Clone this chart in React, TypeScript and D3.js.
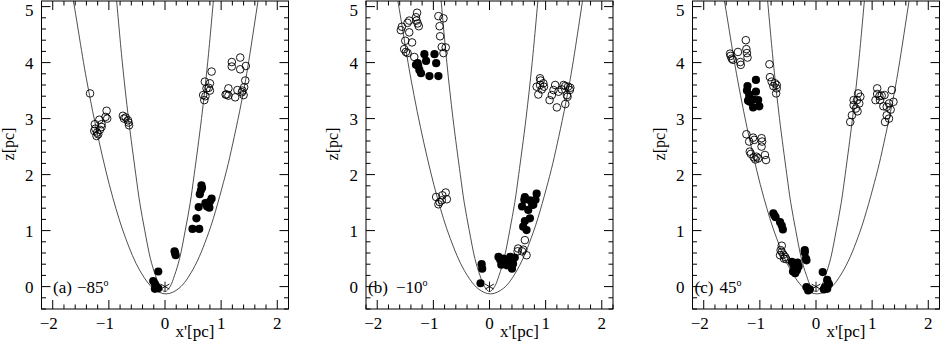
import React from "react";
import * as d3 from "d3";

type P = [number, number];

const xTickValues = [-2, -1, 0, 1, 2];
const zTickValues = [0, 1, 2, 3, 4, 5];
const xTickLabels = ["\u22122", "\u22121", "0", "1", "2"];
const zTickLabels = ["0", "1", "2", "3", "4", "5"];
const panelTags = ["(a)", "(b)", "(c)"];
const panelAngles = ["\u221285", "\u221210", "45"];

const outerCurve: P[] = [
  [-1.72, 5.5], [-1.66, 5.25], [-1.4, 3.71], [-1.17, 2.57], [-0.93, 1.59], [-0.7, 0.86],
  [-0.45, 0.29], [-0.2, -0.04], [0.02, -0.13], [0.25, -0.03], [0.5, 0.31], [0.78, 0.97],
  [1.07, 1.97], [1.18, 2.43], [1.42, 3.6], [1.69, 5.31], [1.74, 5.6],
];
const innerCurve: P[] = [
  [-0.9, 5.5], [-0.88, 5.3], [-0.76, 4], [-0.65, 3], [-0.52, 2], [-0.45, 1.5], [-0.36, 1],
  [-0.26, 0.5], [-0.17, 0.2], [-0.09, 0], [0, -0.09], [0.09, 0], [0.17, 0.2], [0.26, 0.5],
  [0.36, 1], [0.45, 1.5], [0.52, 2], [0.65, 3], [0.76, 4], [0.88, 5.3], [0.9, 5.5],
];

const openA: P[] = [
  [-1.335, 3.45], [-1.04, 3.14], [-1.03, 3.0], [-1.06, 3.03], [-1.17, 2.98], [-1.13, 2.9], [-1.25, 2.9],
  [-1.24, 2.82], [-1.13, 2.85], [-1.16, 2.8], [-1.21, 2.75], [-1.22, 2.69], [-1.26, 2.78], [-1.19, 2.72],
  [-0.75, 3.05], [-0.73, 3.0], [-0.7, 3.02], [-0.66, 2.97], [-0.65, 2.93], [-0.64, 2.88],
  [0.83, 3.84], [0.71, 3.66], [0.8, 3.63], [0.74, 3.54], [0.8, 3.5], [0.68, 3.42], [0.7, 3.33], [0.78, 3.55], [0.72, 3.4],
  [1.19, 4.01], [1.34, 4.09], [1.19, 3.93], [1.34, 3.88], [1.44, 3.94], [1.43, 3.68], [1.13, 3.54], [1.1, 3.43],
  [1.13, 3.41], [1.25, 3.38], [1.29, 3.51], [1.38, 3.5], [1.41, 3.56], [1.4, 3.42], [1.08, 3.43], [1.37, 3.47],
];
const filledA: P[] = [
  [0.65, 1.81], [0.66, 1.76], [0.64, 1.72], [0.62, 1.65], [0.83, 1.57], [0.8, 1.52], [0.77, 1.49], [0.72, 1.49],
  [0.79, 1.41], [0.75, 1.43], [0.6, 1.42], [0.56, 1.22], [0.49, 1.03], [0.61, 1.03], [0.18, 0.6], [0.19, 0.56],
  [0.17, 0.63], [-0.12, 0.27], [-0.21, 0.1], [-0.18, 0.05], [-0.15, 0.0], [-0.18, -0.04], [-0.12, -0.03],
];
const openB: P[] = [
  [-1.29, 4.89], [-1.31, 4.81], [-1.3, 4.75], [-1.28, 4.7], [-1.26, 4.65], [-1.46, 4.71], [-1.43, 4.75],
  [-1.56, 4.64], [-1.58, 4.58], [-1.43, 4.54], [-1.5, 4.39], [-1.38, 4.36], [-1.52, 4.24], [-1.49, 4.19],
  [-1.46, 4.17], [-1.34, 4.1], [-0.91, 4.83], [-0.82, 4.79], [-0.89, 4.65], [-0.88, 4.47], [-0.85, 4.28],
  [-0.78, 4.27], [-0.82, 4.17],
  [-0.95, 1.6], [-0.85, 1.54], [-0.91, 1.47], [-0.78, 1.68], [-0.76, 1.56], [-0.84, 1.63], [-0.89, 1.51],
  [0.9, 3.72], [0.91, 3.68], [0.96, 3.63], [0.84, 3.57], [0.97, 3.57], [0.9, 3.6], [0.87, 3.43], [0.93, 3.52],
  [1.17, 3.6], [1.32, 3.6], [1.4, 3.57], [1.14, 3.51], [1.29, 3.52], [1.43, 3.51], [1.23, 3.48], [1.11, 3.42],
  [1.38, 3.42], [1.07, 3.33], [1.2, 3.2], [1.35, 3.26], [1.39, 3.39], [1.35, 3.58], [1.44, 3.55],
  [0.63, 0.83], [0.51, 0.68], [0.6, 0.66], [0.58, 0.63], [0.66, 0.56], [0.5, 0.63],
];
const filledB: P[] = [
  [-1.16, 4.15], [-0.98, 4.15], [-1.13, 4.03], [-1.28, 3.99], [-0.95, 3.99], [-1.27, 3.94], [-1.25, 3.87],
  [-1.22, 3.81], [-1.07, 3.76], [-0.91, 3.76], [-1.31, 3.96],
  [0.63, 1.6], [0.62, 1.55], [0.58, 1.43], [0.72, 1.54], [0.84, 1.66], [0.82, 1.55], [0.78, 1.46], [0.69, 1.37],
  [0.72, 1.22], [0.63, 1.17], [0.6, 1.07], [0.66, 1.01], [0.76, 1.46],
  [0.37, 0.53], [0.25, 0.5], [0.34, 0.45], [0.42, 0.41], [0.31, 0.38], [0.4, 0.32], [0.21, 0.39], [0.45, 0.52],
  [0.16, 0.53], [0.19, 0.48], [-0.14, 0.4], [-0.13, 0.32], [-0.16, 0.06],
];
const openC: P[] = [
  [-1.53, 4.16], [-1.39, 4.19], [-1.5, 4.07], [-1.48, 4.05], [-1.35, 4.01], [-1.34, 3.96], [-1.25, 4.4],
  [-1.24, 4.24], [-1.23, 4.17], [-1.22, 4.09], [-1.52, 4.12],
  [-0.83, 3.97], [-0.82, 3.74], [-0.79, 3.66], [-0.73, 3.63], [-0.7, 3.6], [-0.7, 3.54], [-0.71, 3.45], [-0.76, 3.58],
  [-1.24, 2.72], [-1.19, 2.59], [-1.12, 2.66], [-1.1, 2.62], [-0.97, 2.65], [-0.96, 2.59], [-0.97, 2.5],
  [-1.18, 2.41], [-1.16, 2.37], [-1.11, 2.31], [-1.06, 2.32], [-1.03, 2.29], [-0.91, 2.35], [-0.89, 2.26], [-1.08, 2.27],
  [-0.61, 0.73], [-0.63, 0.65], [-0.61, 0.62], [-0.58, 0.57], [-0.57, 0.5], [-0.55, 0.53], [-0.64, 0.56], [-0.53, 0.49],
  [0.75, 3.45], [0.73, 3.33], [0.79, 3.39], [0.67, 3.33], [0.67, 3.24], [0.77, 3.27], [0.71, 3.18], [0.64, 3.06],
  [0.61, 2.94], [0.74, 3.13],
  [1.09, 3.54], [1.09, 3.44], [1.13, 3.4], [1.06, 3.33], [1.17, 3.41], [1.22, 3.42], [1.35, 3.51], [1.38, 3.3],
  [1.3, 3.27], [1.2, 3.22], [1.26, 3.21], [1.33, 3.16], [1.26, 3.06], [1.23, 2.94], [1.3, 3.0], [1.14, 3.33],
];
const filledC: P[] = [
  [-1.07, 3.69], [-1.22, 3.58], [-1.23, 3.5], [-1.07, 3.48], [-1.19, 3.36], [-1.11, 3.34], [-1.03, 3.33],
  [-1.18, 3.3], [-1.01, 3.22], [-1.12, 3.2], [-1.19, 3.43], [-1.21, 3.32],
  [-0.76, 1.31], [-0.74, 1.27], [-0.72, 1.24], [-0.64, 1.15], [-0.61, 1.09], [-0.59, 1.02],
  [-0.43, 0.44], [-0.37, 0.41], [-0.4, 0.38], [-0.34, 0.29], [-0.37, 0.24], [-0.33, 0.43], [-0.41, 0.27], [-0.31, 0.36],
  [-0.2, 0.65], [-0.2, 0.61], [-0.18, 0.5], [-0.17, 0.47],
  [-0.17, -0.01], [-0.14, -0.07], [-0.11, -0.05],
  [0.12, 0.26], [0.2, 0.12], [0.22, 0.06], [0.16, -0.01], [0.2, -0.04], [0.14, -0.05], [0.23, 0.04],
];

const openSets = [openA, openB, openC];
const filledSets = [filledA, filledB, filledC];

const W = 941;
const H = 342;
const panelLefts = [41.5, 366, 692.5];
const panelW = 247;
const top = 1;
const bottom = 309;
const FONT = "Liberation Serif, DejaVu Serif, serif";

function Panel({ idx }: { idx: number }) {
  const left = panelLefts[idx];
  const right = left + panelW;
  const x = d3.scaleLinear().domain([-2.2, 2.2]).range([left, right]);
  const y = d3.scaleLinear().domain([-0.4, 5.1]).range([bottom, top]);
  const minorX = d3.range(-22, 23, 2).map((v) => v / 10);
  const minorY = d3.range(-4, 51, 2).map((v) => v / 10);
  const line = d3
    .line<P>()
    .x((d) => x(d[0]))
    .y((d) => y(d[1]))
    .curve(d3.curveCatmullRom.alpha(0.5));
  const clipId = `clip${idx}`;
  const maj = 9;
  const mn = 4.5;
  const textLefts = [53, 368, 694.5];
  const angleLefts = [77, 396, 719.5];
  const sx = x(0);
  const sy = y(0);
  const sr = 5;
  return (
    <g>
      <defs>
        <clipPath id={clipId}>
          <rect x={left} y={top} width={panelW} height={bottom - top} />
        </clipPath>
      </defs>
      <g clipPath={`url(#${clipId})`} fill="none" stroke="#222" strokeWidth={0.8}>
        <path d={line(outerCurve) || ""} />
        <path d={line(innerCurve) || ""} />
      </g>
      <g stroke="#000" strokeWidth={1}>
        {minorX.map((v, i) => {
          const isMaj = Math.abs(v - Math.round(v)) < 1e-6;
          const l = isMaj ? maj : mn;
          return (
            <g key={"x" + i}>
              <line x1={x(v)} x2={x(v)} y1={bottom} y2={bottom - l} />
              <line x1={x(v)} x2={x(v)} y1={top} y2={top + l} />
            </g>
          );
        })}
        {minorY.map((v, i) => {
          const isMaj = Math.abs(v - Math.round(v)) < 1e-6;
          const l = isMaj ? maj : mn;
          return (
            <g key={"y" + i}>
              <line x1={left} x2={left + l} y1={y(v)} y2={y(v)} />
              <line x1={right} x2={right - l} y1={y(v)} y2={y(v)} />
            </g>
          );
        })}
      </g>
      <rect x={left} y={top} width={panelW} height={bottom - top} fill="none" stroke="#000" strokeWidth={1} />
      <g clipPath={`url(#${clipId})`}>
        {openSets[idx].map((d, i) => (
          <circle key={"o" + i} cx={x(d[0])} cy={y(d[1])} r={3.8} fill="none" stroke="#000" strokeWidth={0.9} />
        ))}
        {filledSets[idx].map((d, i) => (
          <circle key={"f" + i} cx={x(d[0])} cy={y(d[1])} r={4.1} fill="#000" />
        ))}
      </g>
      <g stroke="#000" strokeWidth={0.9}>
        {[0, 60, 120].map((a) => {
          const r = (a * Math.PI) / 180 + Math.PI / 2;
          return (
            <line key={a} x1={sx - sr * Math.cos(r)} y1={sy - sr * Math.sin(r)} x2={sx + sr * Math.cos(r)} y2={sy + sr * Math.sin(r)} />
          );
        })}
      </g>
      <g fontFamily={FONT} fontSize={17} fill="#000">
        {xTickValues.map((v, i) => (
          <text key={"xl" + i} x={x(v) - (v < 0 ? 4 : 0)} y={329} textAnchor="middle">
            {xTickLabels[i]}
          </text>
        ))}
        {zTickValues.map((v, i) => (
          <text key={"yl" + i} x={left - 8} y={Math.max(y(v) + 6, 16)} textAnchor="end">
            {zTickLabels[i]}
          </text>
        ))}
        <text x={left + panelW / 2 + 30} y={337} textAnchor="middle">
          x'[pc]
        </text>
        <text transform={`translate(${left - 28},${144}) rotate(-90)`} textAnchor="middle" fontSize={16}>
          z[pc]
        </text>
        <text x={textLefts[idx]} y={293}>
          {panelTags[idx]}
        </text>
        <text x={angleLefts[idx]} y={293}>
          {panelAngles[idx]}
          <tspan fontSize={10} dy={-7}>o</tspan>
        </text>
      </g>
    </g>
  );
}

export default function App() {
  return (
    <svg
      width={W}
      height={H}
      viewBox={`0 0 ${W} ${H}`}
      style={{ position: "absolute", left: 0, top: 0, background: "#fff" }}
    >
      <rect x={0} y={0} width={W} height={H} fill="#fff" />
      {[0, 1, 2].map((i) => (
        <Panel key={i} idx={i} />
      ))}
    </svg>
  );
}
